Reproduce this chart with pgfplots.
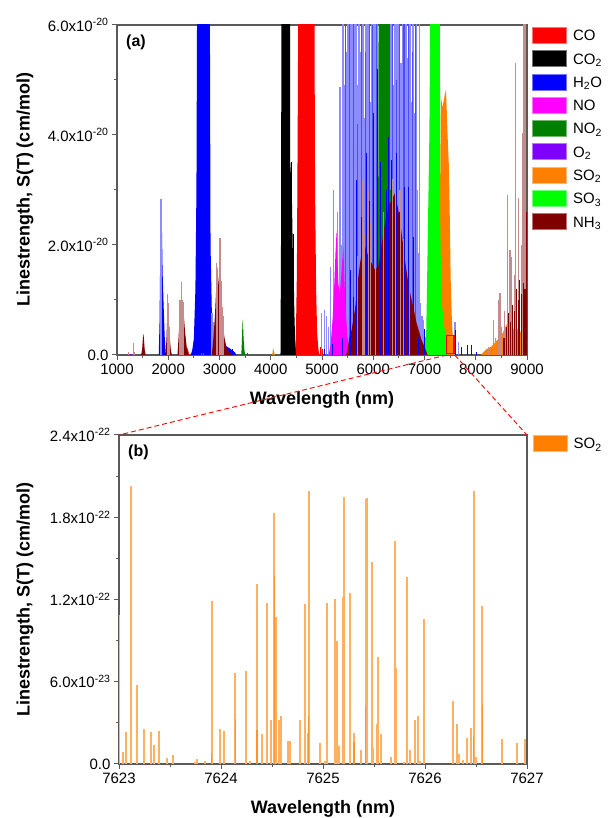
\documentclass[border=0pt]{standalone}
\usepackage{fontspec}
\setmainfont{Liberation Sans}
\setsansfont{Liberation Sans}
\newfontfamily\widefont[FakeStretch=1.18]{Liberation Sans}
\usepackage{pgfplots}
\pgfplotsset{compat=1.18}
\definecolor{cCO}{RGB}{255,0,0}
\definecolor{cCOtwo}{RGB}{0,0,0}
\definecolor{cHtwoO}{RGB}{0,0,255}
\definecolor{cNO}{RGB}{255,0,255}
\definecolor{cNOtwo}{RGB}{0,128,0}
\definecolor{cOtwo}{RGB}{128,0,255}
\definecolor{cSOtwo}{RGB}{255,128,0}
\definecolor{cSOthree}{RGB}{0,255,0}
\definecolor{cNHthree}{RGB}{128,0,0}
\definecolor{axgray}{RGB}{90,90,90}
\pgfplotsset{
 panel/.style={
  scale only axis, clip=true,
  axis line style={axgray, line width=1.2pt},
  tick style={axgray, line width=1pt},
  tick align=outside, tick pos=left,
  major tick length=5pt, minor tick length=3pt,
  minor x tick num=1, minor y tick num=1,
  tick label style={font=\fontsize{15}{18}\selectfont, text=black},
  every axis x label/.style={at={(axis description cs:0.5,-0.1364)}, anchor=center, font=\fontsize{18}{21}\selectfont\bfseries},
  legend cell align=left,
  legend image code/.code={\draw[##1] (0pt,-6.5pt) rectangle (34pt,9.5pt);},
  legend style={draw=none, fill=none, inner sep=0pt, outer sep=0pt, row sep=6.5pt, anchor=north west,
     nodes={inner sep=0pt, text height=11pt, text depth=3pt, font=\fontsize{15}{18}\selectfont},
     /tikz/every odd column/.append style={column sep=6pt}},
 },
 light/.style={ycomb, line width=1.4pt, forget plot},
 dark/.style={ycomb, line width=0.9pt, forget plot},
 band/.style={draw=none, forget plot},
}
\begin{document}
\begin{tikzpicture}
\path[use as bounding box] (0pt,0pt) rectangle (612pt,818pt);
% ---------------- panel (a) ----------------
\begin{axis}[panel, name=A, at={(117pt,463pt)}, anchor=south west, width=410pt, height=330pt,
 xmin=1000, xmax=9000, ymin=0, ymax=6,
 xtick={1000,2000,3000,4000,5000,6000,7000,8000,9000},
 xticklabels={1000,2000,3000,4000,5000,6000,7000,8000,9000},
 ytick={0,2,4,6},
 yticklabels={0.0,{2.0x10\textsuperscript{-20}},{4.0x10\textsuperscript{-20}},{6.0x10\textsuperscript{-20}}},
 xlabel={Wavelength (nm)}, ylabel={Linestrength, S(T) (cm/mol)},
 every axis y label/.style={at={(axis description cs:-0.2244,0.5)}, anchor=center, rotate=90, font=\fontsize{18}{21}\selectfont\bfseries},
 legend style={at={(1.0134,0.994)}},
]
\addlegendimage{fill=cCO, draw=cCO!55!white, line width=0.6pt}\addlegendentry{CO}
\addlegendimage{fill=cCOtwo, draw=cCOtwo!55!white, line width=0.6pt}\addlegendentry{CO\textsubscript{2}}
\addlegendimage{fill=cHtwoO, draw=cHtwoO!55!white, line width=0.6pt}\addlegendentry{H\textsubscript{2}O}
\addlegendimage{fill=cNO, draw=cNO!55!white, line width=0.6pt}\addlegendentry{NO}
\addlegendimage{fill=cNOtwo, draw=cNOtwo!55!white, line width=0.6pt}\addlegendentry{NO\textsubscript{2}}
\addlegendimage{fill=cOtwo, draw=cOtwo!55!white, line width=0.6pt}\addlegendentry{O\textsubscript{2}}
\addlegendimage{fill=cSOtwo, draw=cSOtwo!55!white, line width=0.6pt}\addlegendentry{SO\textsubscript{2}}
\addlegendimage{fill=cSOthree, draw=cSOthree!55!white, line width=0.6pt}\addlegendentry{SO\textsubscript{3}}
\addlegendimage{fill=cNHthree, draw=cNHthree!55!white, line width=0.6pt}\addlegendentry{NH\textsubscript{3}}
% CO
\addplot[band, fill=cCO] coordinates {(4470,0)(4490,0.3)(4510,1.5)(4525,4)(4540,7)(4850,7)(4865,3)(4885,1.2)(4905,0.4)(4930,0.1)(4950,0)} \closedcycle;
\addplot[band, fill=cCO] coordinates {(2300,0)(2330,0.08)(2360,0.15)(2390,0.08)(2410,0)} \closedcycle;
\addplot[dark, draw=cCO] coordinates {(4960,0.15)(5000,0.1)(4470,0.2)};
% CO2
\addplot[band, fill=cCOtwo] coordinates {(4190,0)(4200,2)(4210,7)(4375,7)(4380,3.5)(4410,3.0)(4430,1.9)(4445,1.6)(4460,0.8)(4475,0.3)(4490,0)} \closedcycle;
\addplot[dark, draw=cCOtwo] coordinates {(4408,3.5)(4440,2.2)};
% H2O
\addplot[band, fill=cHtwoO] coordinates {(1815,0)(1830,0.6)(1845,2.0)(1860,2.7)(1875,2.4)(1890,1.5)(1910,0.9)(1930,0.35)(1950,0.05)(1960,0)} \closedcycle;
\addplot[band, fill=cHtwoO] coordinates {(2440,0)(2470,0.1)(2500,0.3)(2530,1.2)(2550,3)(2565,7)(2810,7)(2825,2)(2850,0.8)(2880,0.4)(2920,0.25)(3000,0.2)(3100,0.18)(3200,0.12)(3300,0.05)(3330,0)} \closedcycle;
\addplot[light, draw=cHtwoO!45!white] coordinates {(1858,2.84)(2850,0.76)(2880,0.6)(4993,0.76)(5044,0.82)(5090,0.70)(5130,0.5)(5168,1.6)(5220,3.0)(5260,1.2)(5298,2.6)(5351,4.88)(5380,2.0)
(5411,8)(5436,4.9)(5460,8)(5485,5.5)(5510,8)(5535,3.7)(5560,8)(5585,8)(5610,5.2)(5635,8)(5660,8)(5685,4.9)(5710,8)(5735,8)(5760,5.5)(5785,8)(5810,8)(5835,4.3)(5860,8)(5885,8)(5910,8)(5935,4.6)(5960,8)(5985,8)(6010,8)(6035,8)(6060,5.1)(6085,8)
(6340,8)(6365,8)(6390,4.9)(6415,8)(6440,8)(6465,8)(6490,8)(6515,8)(6540,5.3)(6565,8)(6590,8)(6615,8)(6640,8)(6665,5.4)(6690,8)(6715,8)(6740,4.6)(6765,8)(6790,8)(6815,4.4)(6840,8)(6865,3.0)(6890,1.85)(6905,8)(6925,0.94)(6950,0.7)(6977,0.64)(7000,0.4)(7022,0.33)(7595,0.6)(7660,0.24)};
\addplot[light, draw=cHtwoO!70!white, line width=1.1pt] coordinates {(5450,8)(5530,6)(5620,8)(5700,4.2)(5770,8)(5850,5.5)(5920,8)(5990,6)(6060,8)(6130,8)(6210,8)(6290,8)(6380,8)(6450,5)(6520,8)(6600,6.3)(6680,8)(6760,5.5)(6830,8)};
\addplot[dark, draw=cHtwoO] coordinates {(7595,0.45)(7725,0.15)(7842,0.18)(7920,0.18)(8010,0.05)(3150,0.15)(3250,0.1)};
% NO
\addplot[band, fill=cNO] coordinates {(5130,0)(5170,0.2)(5210,0.7)(5240,1.3)(5265,1.9)(5286,2.27)(5300,1.8)(5320,1.3)(5345,1.1)(5370,1.35)(5395,1.7)(5416,1.97)(5440,1.3)(5470,0.7)(5500,0.3)(5530,0.1)(5550,0)} \closedcycle;
\addplot[dark, draw=cNO] coordinates {(2640,0.03)(2680,0.04)};
% NO2
\addplot[band, fill=cNOtwo] coordinates {(3425,0)(3435,0.2)(3445,0.5)(3452,0.65)(3460,0.55)(3470,0.3)(3485,0.1)(3500,0)} \closedcycle;
\addplot[band, fill=cNOtwo] coordinates {(6085,0)(6095,2)(6105,7)(6320,7)(6330,2)(6340,0)} \closedcycle;
\addplot[dark, draw=cNOtwo] coordinates {(3540,0.03)(6080,2.5)(6345,3.0)(6360,2.0)};
% O2
\addplot[dark, draw=cOtwo] coordinates {(1262,0.01)(1268,0.012)(1274,0.01)};
% SO2
\addplot[band, fill=cSOtwo] coordinates {(4030,0)(4040,0.08)(4050,0.12)(4065,0.05)(4080,0)} \closedcycle;
\addplot[band, fill=cSOtwo] coordinates {(7290,0)(7300,2.5)(7320,4.7)(7350,4.5)(7390,4.7)(7420,4.83)(7450,4.0)(7477,3.4)(7497,2.3)(7510,1.4)(7530,0.75)(7560,0.15)(7580,0)} \closedcycle;
\addplot[band, fill=cSOtwo] coordinates {(8100,0)(8150,0.05)(8200,0.1)(8300,0.15)(8400,0.25)(8450,0.3)(8500,0.35)(8550,0.45)(8600,0.55)(8650,0.6)(8700,0.55)(8750,0.45)(8800,0.5)(8850,0.4)(8900,0.45)(8950,0.35)(9000,0.3)} \closedcycle;
\addplot[dark, draw=cSOtwo] coordinates {(8560,0.65)(8640,0.7)(8700,0.62)(8720,0.7)};
% SO3
\addplot[band, fill=cSOthree] coordinates {(7025,0)(7045,1.0)(7070,2.5)(7095,4)(7120,7)(7300,7)(7305,2.5)(7330,1.0)(7400,0.4)(7430,0.1)(7445,0)} \closedcycle;
% NH3
\addplot[band, fill=cNHthree] coordinates {(1470,0)(1490,0.1)(1505,0.3)(1515,0.39)(1525,0.3)(1540,0.1)(1560,0)} \closedcycle;
\addplot[band, fill=cNHthree] coordinates {(1950,0)(1965,0.3)(1980,0.7)(1995,0.85)(2010,0.6)(2030,0.3)(2050,0.1)(2070,0)} \closedcycle;
\addplot[band, fill=cNHthree] coordinates {(2180,0)(2200,0.3)(2225,0.7)(2245,0.95)(2265,0.9)(2285,0.95)(2305,0.7)(2330,0.4)(2360,0.15)(2390,0)} \closedcycle;
\addplot[band, fill=cNHthree] coordinates {(2850,0)(2880,0.3)(2910,0.7)(2935,1.2)(2955,1.6)(2975,1.4)(2995,1.2)(3020,0.9)(3045,0.7)(3070,0.5)(3100,0.3)(3140,0.12)(3200,0.04)(3250,0)} \closedcycle;
\addplot[band, fill=cNHthree] coordinates {(5470,0)(5500,0.1)(5530,0.3)(5578,0.46)(5610,0.65)(5643,0.82)(5675,1.1)(5708,1.42)(5740,1.65)(5773,1.85)(5838,1.97)(5870,1.9)(5903,1.79)(5968,1.67)(6033,1.55)(6098,1.6)(6163,2.0)(6228,2.39)(6293,2.7)(6358,2.82)(6424,2.94)(6489,2.64)(6554,2.21)(6619,1.73)(6684,1.3)(6749,1.0)(6846,0.58)(6944,0.27)(7000,0.15)(7042,0.05)(7060,0)} \closedcycle;
\addplot[light, draw=cNHthree!45!white, line width=1.2pt] coordinates {(1230,0.05)(1318,0.21)(1340,0.05)(1988,1.11)(2005,0.95)(2020,0.5)(2230,1.0)(2253,1.33)(2280,1.0)(2305,0.97)(2945,1.67)(2960,1.55)(3010,2.12)(3030,1.35)(3060,0.88)(3080,0.7)(5700,1.8)(5800,3.18)(5830,2.2)(5900,3.0)(5950,2.4)(6050,2.0)(6200,2.6)(6380,3.2)(6430,3.5)(6460,3.3)(6520,3.0)(6600,2.1)(6700,1.6)(8250,0.15)(8342,0.64)(8380,0.3)(8440,1.0)(8473,1.12)(8500,0.5)(8560,0.8)(8615,2.9)(8625,2.88)(8667,1.9)(8700,1.0)(8701,1.79)(8765,1.45)(8777,5.3)(8829,1.48)(8839,2.85)(8850,1.2)(8896,2.0)(8915,4.03)(8929,8)(8962,8)};
\addplot[dark, draw=cNHthree, line width=1.2pt] coordinates {(8550,0.3)(8600,0.5)(8635,0.76)(8680,0.6)(8720,0.9)(8760,0.8)(8800,1.2)(8830,1.0)(8860,1.36)(8890,1.1)(8930,1.3)(8960,1.2)(8990,2.6)(8998,2.6)};
% H2O lines in front
\addplot[dark, draw=cHtwoO] coordinates {(5050,0.1)(5200,0.2)(5400,0.3)(5546,1.55)(5611,1.06)(5676,3.18)(5760,2.5)(5871,3.67)(5930,2.8)(6001,4.4)(6079,5.2)(6150,3.5)(6250,3.0)(6294,3.97)(6359,3.54)(6456,3.67)(6520,2.6)(6599,3.06)(6684,3.06)(6781,2.15)(6879,0.33)(6990,0.47)};
% zoom box
\draw[red, line width=1.3pt] (axis cs:7432,0.03) rectangle (axis cs:7575,0.35);
\coordinate (zl) at (axis cs:7435,0);
\coordinate (zr) at (axis cs:7590,0);
\node[anchor=north west, inner sep=0pt, font=\fontsize{16}{19}\selectfont\bfseries] at (axis description cs:0.022,0.9697) {(a)};
\node[anchor=base east, inner sep=0pt, font=\widefont\fontsize{12.5}{15}\selectfont] at (axis description cs:1,1.0152) {Temperature : 296K};
\end{axis}
% ---------------- panel (b) ----------------
\begin{axis}[panel, name=B, at={(119pt,54pt)}, anchor=south west, width=408pt, height=329pt,
 xmin=0, xmax=4, ymin=0, ymax=2.4,
 xtick={0,1,2,3,4}, xticklabels={7623,7624,7625,7626,7627},
 ytick={0,0.6,1.2,1.8,2.4},
 yticklabels={0.0,{6.0x10\textsuperscript{-23}},{1.2x10\textsuperscript{-22}},{1.8x10\textsuperscript{-22}},{2.4x10\textsuperscript{-22}}},
 xlabel={Wavelength (nm)}, ylabel={Linestrength, S(T) (cm/mol)},
 every axis y label/.style={at={(axis description cs:-0.2304,0.5)}, anchor=center, rotate=90, font=\fontsize{18}{21}\selectfont\bfseries},
 legend style={at={(1.0147,1.0)}},
]
\addlegendimage{fill=cSOtwo, draw=cSOtwo!55!white, line width=0.6pt}\addlegendentry{SO\textsubscript{2}}
\addplot[ycomb, draw=cSOtwo!62!white, line width=2pt, forget plot] coordinates {
(0.003,1.088)(0.036,0.09)(0.069,0.23)(0.118,2.03)(0.18,0.577)(0.248,0.255)(0.317,0.236)(0.343,0.139)(0.389,0.243)
(0.467,0.046)(0.533,0.065)(0.742,0.017)(0.765,0.036)(0.847,0.024)(0.909,1.19)(0.990,0.255)(1.029,0.24)
(1.137,0.662)(1.245,0.679)(1.284,0.02)(1.350,1.316)(1.405,0.22)(1.448,1.173)(1.493,0.32)(1.520,1.83)
(1.536,1.073)(1.572,0.32)(1.592,0.35)(1.660,0.17)(1.677,0.165)(1.775,0.32)(1.820,1.166)(1.856,0.224)
(1.866,1.99)(1.971,0.15)(2.017,0.02)(2.039,1.175)(2.118,1.20)(2.141,0.898)(2.160,0.13)(2.193,1.22)
(2.206,1.946)(2.268,1.247)(2.301,0.224)(2.373,0.1)(2.418,1.932)(2.435,1.94)(2.477,1.474)(2.494,0.12)
(2.526,0.29)(2.536,0.779)(2.569,0.22)(2.667,0.05)(2.706,1.625)(2.716,0.698)(2.791,0.017)(2.821,1.363)
(2.853,0.1)(2.906,0.32)(2.932,0.35)(2.955,0.02)(2.987,1.056)(3.271,0.46)(3.314,0.29)(3.333,0.07)
(3.373,0.03)(3.412,0.19)(3.448,0.26)(3.477,1.99)(3.5,0.05)(3.559,1.156)(3.752,0.18)(3.899,0.15)(3.98,0.18)};
\addplot[ycomb, draw=cSOtwo!85!white, line width=1.4pt, forget plot] coordinates {
(0.905,0.07)(1.14,0.33)(1.352,0.25)(1.522,1.37)(2.304,0.16)(2.415,0.42)(3.562,0.43)(1.858,0.35)(3.478,0.2)};
\node[anchor=north west, inner sep=0pt, font=\fontsize{16}{19}\selectfont\bfseries] at (axis description cs:0.022,0.9696) {(b)};
\node[anchor=base east, inner sep=0pt, font=\widefont\fontsize{12.5}{15}\selectfont] at (axis description cs:1,1.0258) {Temperature : 296K};
\end{axis}
\draw[red, line width=0.9pt, dash pattern=on 5pt off 3pt] (zl) -- (B.north west);
\draw[red, line width=0.9pt, dash pattern=on 5pt off 3pt] (zr) -- (B.north east);
\end{tikzpicture}
\end{document}
